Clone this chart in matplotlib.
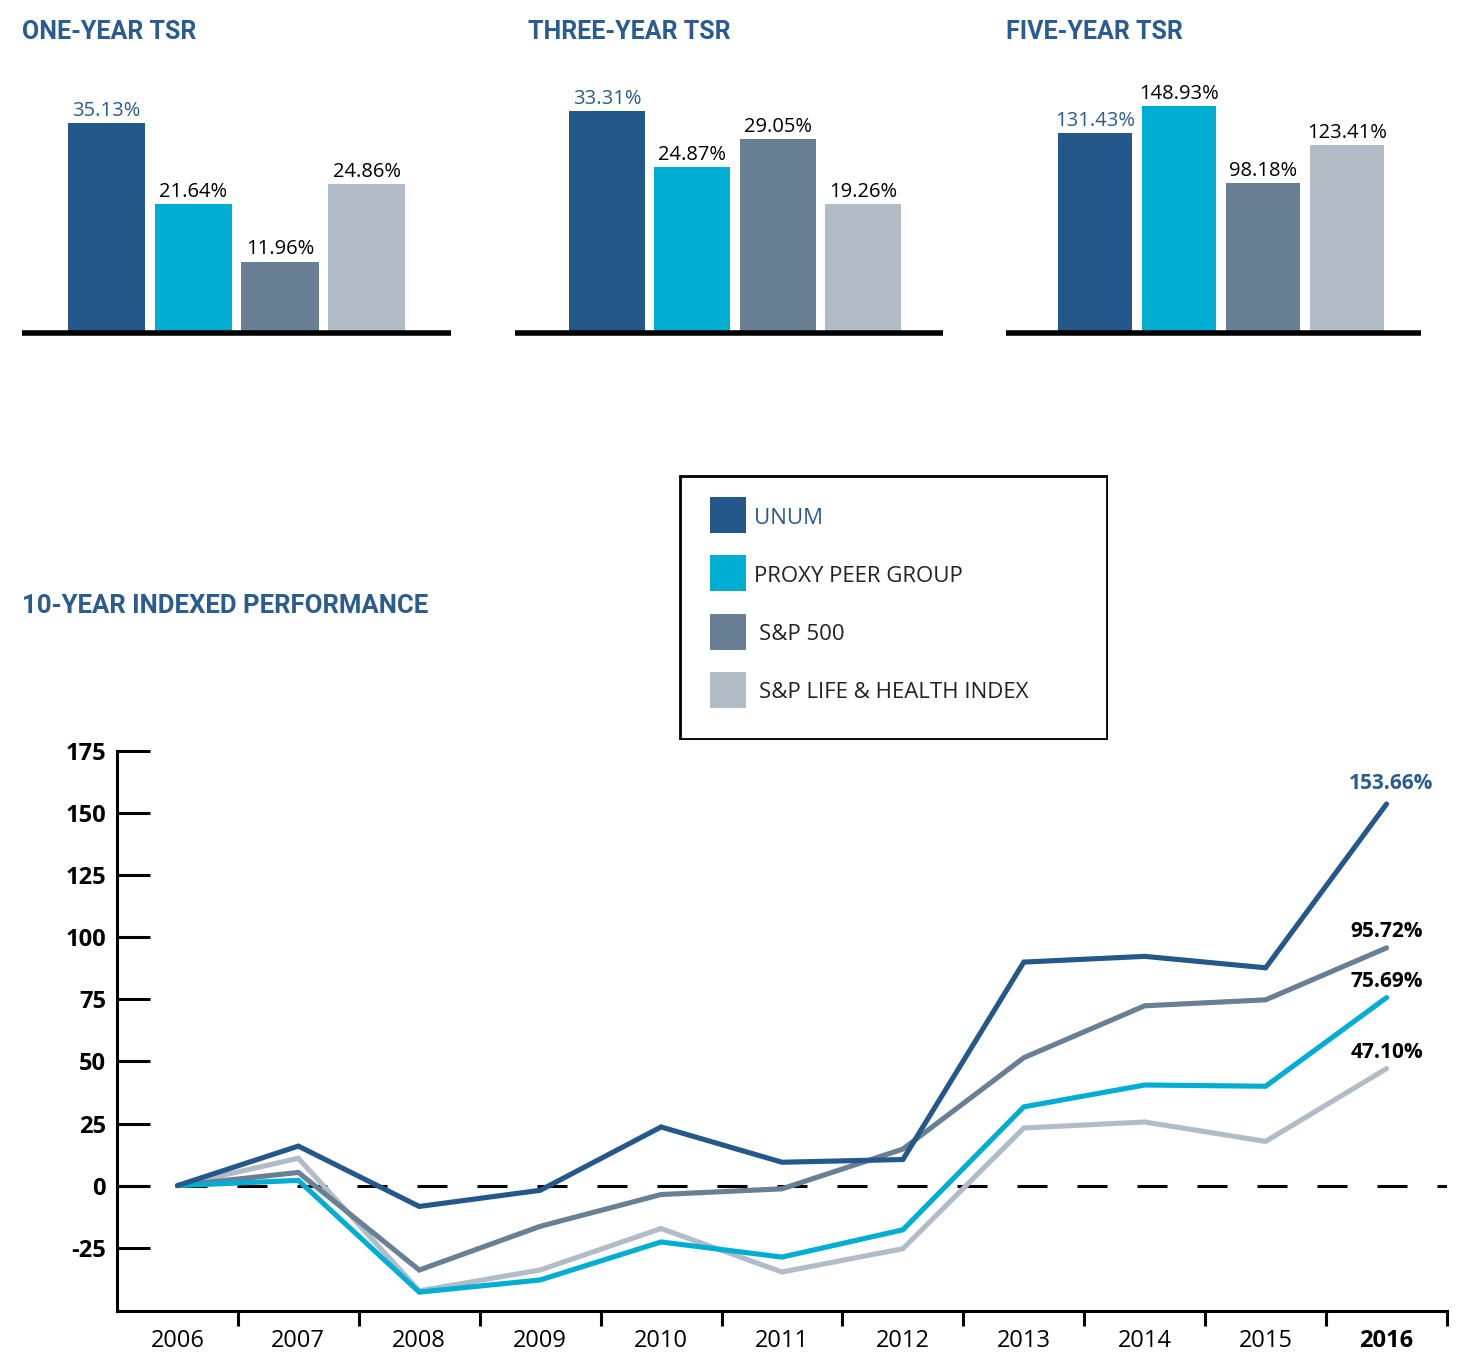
import matplotlib
matplotlib.use("Agg")
import matplotlib.pyplot as plt
import matplotlib.patches as patches

plt.rcParams['font.family'] = ['Open Sans', 'DejaVu Sans']
plt.rcParams['lines.scale_dashes'] = False
plt.rcParams['axes.unicode_minus'] = False

# Data
series = ["UNUM", "PROXY PEER GROUP", "S&P 500", "S&P LIFE & HEALTH INDEX"]
colors = ["#24588B", "#00AED4", "#697F93", "#B2BCC7"]
title_blue = "#2A5C8F"

tsr_titles = ["ONE-YEAR TSR", "THREE-YEAR TSR", "FIVE-YEAR TSR"]
one_year = [35.13, 21.64, 11.96, 24.86]
three_year = [33.31, 24.87, 29.05, 19.26]
five_year = [131.43, 148.93, 98.18, 123.41]

years = ["2006", "2007", "2008", "2009", "2010", "2011", "2012", "2013", "2014", "2015", "2016"]
unum = [0, 15.9, -8.4, -1.9, 23.6, 9.4, 10.5, 90.0, 92.3, 87.7, 153.66]
proxy = [0, 2.1, -42.9, -38.0, -22.7, -28.8, -17.8, 31.7, 40.5, 40.0, 75.69]
sp500 = [0, 5.3, -34.0, -16.4, -3.6, -1.3, 14.7, 51.5, 72.4, 74.8, 95.72]
life_health = [0, 11.0, -42.4, -34.0, -17.3, -34.8, -25.4, 23.2, 25.6, 17.8, 47.10]

W, H = 1470, 1368
fig = plt.figure(figsize=(W / 100, H / 100), dpi=100)


def fr(x0, y0, x1, y1):
    # pixel box -> figure fraction [left, bottom, width, height]
    return [x0 / W, 1 - y1 / H, (x1 - x0) / W, (y1 - y0) / H]


title_font = ['Roboto', 'DejaVu Sans']

# --- bar panels ---
bar_boxes = [(22, 100, 451, 333), (515, 100, 943, 333), (1006, 100, 1421, 333)]
bar_xlims = [(-0.975, 3.97), (-1.08, 3.94), (-1.06, 3.88)]
bar_ylims = [39.0, 34.9, 153.0]
title_x = [22, 528, 1006]

for vals, ttl, box, xl, ym, tx in zip([one_year, three_year, five_year], tsr_titles,
                                       bar_boxes, bar_xlims, bar_ylims, title_x):
    ax = fig.add_axes(fr(*box))
    ax.bar(range(len(vals)), vals, width=0.89, color=colors)
    ax.set_xlim(*xl)
    ax.set_ylim(0, ym)
    for s in ['top', 'right', 'left']:
        ax.spines[s].set_visible(False)
    ax.spines['bottom'].set_linewidth(4)
    ax.spines['bottom'].set_capstyle('butt')
    ax.set_xticks([])
    ax.set_yticks([])
    for i, v in enumerate(vals):
        ax.annotate(f"{v:.2f}%", (i, v), xytext=(0, 1.5), textcoords='offset points',
                    ha='center', va='bottom', fontsize=14.5,
                    color=title_blue if i == 0 else 'black')
    fig.text(tx / W, 1 - 32 / H, ttl, fontsize=18, fontweight='bold',
             color=title_blue, va='center', ha='left', family=title_font)

# --- legend box ---
lg = fig.add_axes(fr(679, 475, 1108, 740))
lg.set_xlim(0, 429)
lg.set_ylim(265, 0)
lg.axis('off')
lg.add_patch(patches.Rectangle((1, 1), 427, 263, fill=False, edgecolor='black', linewidth=2))
for k, (name, c) in enumerate(zip(series, colors)):
    y = 40 + k * 58.3
    lg.add_patch(patches.Rectangle((31, y - 18), 36, 36, facecolor=c, edgecolor='none'))
    lg.text(75 if k < 2 else 80, y + 3, name, va='center', ha='left', fontsize=16,
            color=title_blue if k == 0 else '#222222')

fig.text(22 / W, 1 - 606 / H, "10-YEAR INDEXED PERFORMANCE", fontsize=18.5,
         fontweight='bold', color=title_blue, va='center', ha='left', family=title_font)

# --- line chart ---
ax = fig.add_axes(fr(117, 751, 1447, 1311))
x = range(len(years))
ax.axhline(0, color='black', linewidth=2.2, dashes=(21.6, 21.6), zorder=1)
order = [3, 2, 1, 0]
data = [unum, proxy, sp500, life_health]
for idx in order:
    ax.plot(x, data[idx], color=colors[idx], linewidth=3.7, solid_capstyle='round',
            solid_joinstyle='miter', zorder=2 + (3 - idx))

ax.set_xlim(-0.5, len(years) - 0.5)
ax.set_ylim(-50.5, 175)
ax.spines['top'].set_visible(False)
ax.spines['right'].set_visible(False)
ax.spines['left'].set_linewidth(2.2)
ax.spines['bottom'].set_linewidth(2.2)
ax.set_yticks(range(-25, 176, 25))
ax.tick_params(axis='y', direction='in', length=24, width=2.2, labelsize=17, pad=8)
for t in ax.get_yticklabels():
    t.set_fontweight('bold')
ax.set_xticks(list(x))
ax.set_xticklabels(years, fontsize=17)
ax.tick_params(axis='x', which='major', length=0, pad=13)
ax.set_xticks([i + 0.5 for i in x], minor=True)
ax.tick_params(axis='x', which='minor', direction='out', length=11, width=2.2)
ax.get_xticklabels()[-1].set_fontweight('bold')

last = len(years) - 1
for idx in range(4):
    v = data[idx][-1]
    ax.annotate(f"{v:.2f}%", (last, v), xytext=(3 if idx == 0 else 0, 7 if idx == 0 else 4),
                textcoords='offset points', ha='center', va='bottom', fontsize=15,
                fontweight='bold', color=title_blue if idx == 0 else 'black')

fig.savefig("out.png", dpi=100)
